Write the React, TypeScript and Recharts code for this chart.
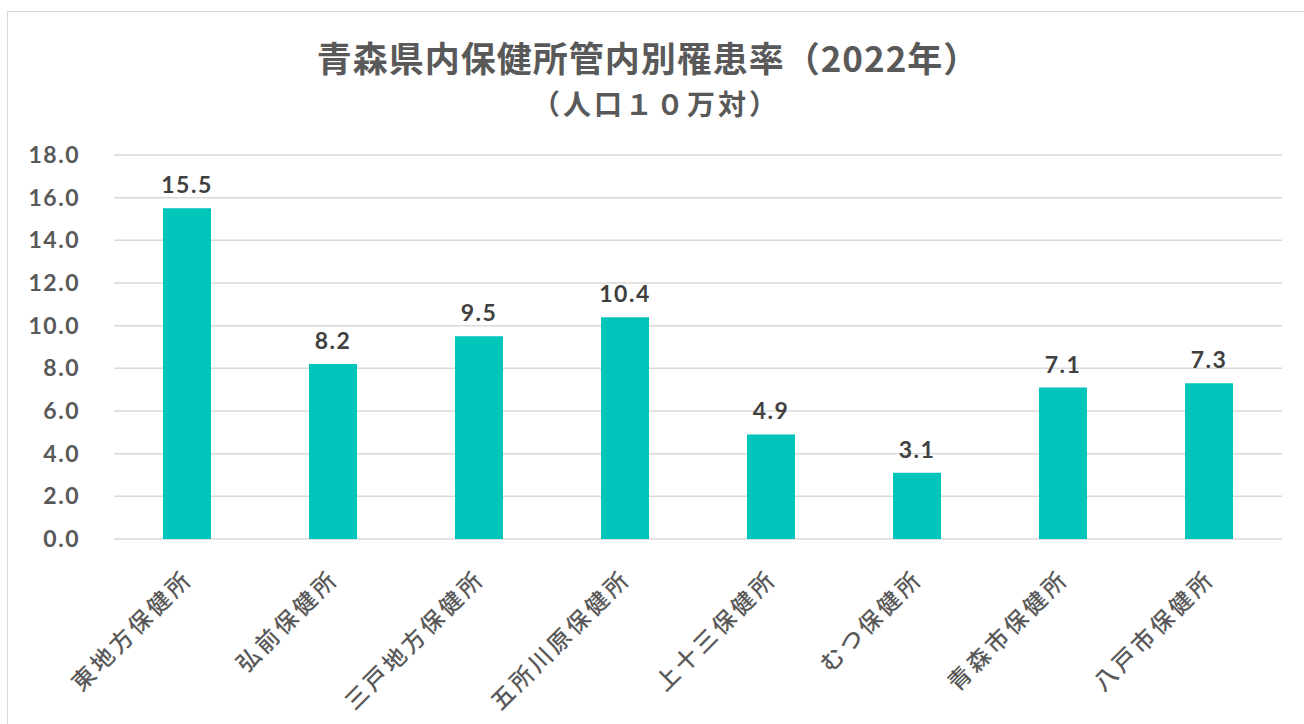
import React from 'react';
import { BarChart, Bar, XAxis, YAxis, CartesianGrid, LabelList } from 'recharts';

const categories = ['東地方保健所', '弘前保健所', '三戸地方保健所', '五所川原保健所', '上十三保健所', 'むつ保健所', '青森市保健所', '八戸市保健所'];
const rates = [15.5, 8.2, 9.5, 10.4, 4.9, 3.1, 7.1, 7.3];
const yTicks = [0, 2, 4, 6, 8, 10, 12, 14, 16, 18];
const titleText = '青森県内保健所管内別罹患率（2022年）';
const subtitleText = '（人口１０万対）';

const data = categories.map((name, i) => ({ name, value: rates[i] }));

const XTick = (props: any) => {
  const { x, y, payload } = props;
  const ax = x + 7;
  const ay = y + 33;
  return (
    <text
      x={ax}
      y={ay}
      transform={`rotate(-45, ${ax}, ${ay})`}
      textAnchor="end"
      fill="#595959"
      fontSize={23}
      fontWeight={500}
      letterSpacing={3.5}
      fontFamily="'Noto Sans CJK JP', sans-serif"
    >
      {payload.value}
    </text>
  );
};

export default function App() {
  return (
    <div style={{ position: 'absolute', left: 0, top: 0, width: 1304, height: 724, background: '#fff' }}>
      <div style={{ position: 'absolute', left: 7, top: 11, width: 1310, height: 730, border: '1px solid #d9d9d9', boxSizing: 'border-box' }} />
      <div style={{ position: 'absolute', left: 0, top: 32, width: 1296, textAlign: 'center', fontFamily: "'Noto Sans CJK JP', sans-serif", fontWeight: 700, fontSize: 35, letterSpacing: 1, color: '#595959', lineHeight: '50px' }}>
        {titleText}
      </div>
      <div style={{ position: 'absolute', left: 0, top: 83, width: 1312, textAlign: 'center', fontFamily: "'Noto Sans CJK JP', sans-serif", fontWeight: 700, fontSize: 28, letterSpacing: 3, color: '#595959', lineHeight: '40px' }}>
        {subtitleText}
      </div>
      <div style={{ position: 'absolute', left: 0, top: 0 }}>
        <BarChart width={1304} height={724} data={data} margin={{ top: 155, right: 22, bottom: 0, left: 0 }} barCategoryGap={49}>
          <CartesianGrid vertical={false} stroke="#d9d9d9" strokeWidth={1.5} />
          <XAxis dataKey="name" axisLine={false} tickLine={false} tick={<XTick />} interval={0} height={185} />
          <YAxis
            width={114}
            domain={[0, 18]}
            ticks={yTicks}
            interval={0}
            axisLine={false}
            tickLine={false}
            tickSize={0}
            tickMargin={34}
            tickFormatter={(v: number) => v.toFixed(1)}
            tick={{ fill: '#595959', fontSize: 23, fontWeight: 700, fontFamily: 'Lato, sans-serif', letterSpacing: 1.5 }}
          />
          <Bar dataKey="value" fill="#00C5BA" isAnimationActive={false}>
            <LabelList dataKey="value" position="top" offset={15} formatter={(v: any) => Number(v).toFixed(1)} fill="#404040" fontSize={23} fontWeight={700} fontFamily="Lato, sans-serif" letterSpacing={1.5} />
          </Bar>
        </BarChart>
      </div>
    </div>
  );
}
